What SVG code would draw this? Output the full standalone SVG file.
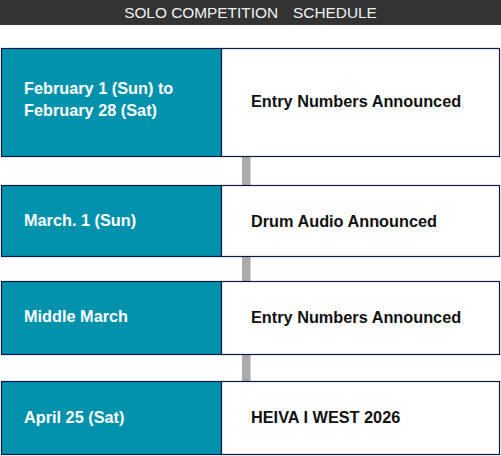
<svg xmlns="http://www.w3.org/2000/svg" width="501" height="456" viewBox="0 0 501 456">
<style>
.l{fill:#0091ad;stroke:#0b1a45;stroke-width:1.2}
.r{fill:#fff;stroke:#0b1a45;stroke-width:1.2}
.c{fill:#aaa}
.lt{font-family:"Liberation Sans",Arial,sans-serif;font-size:16.3px;font-weight:bold;fill:#fff}
.rt{font-family:"Liberation Sans",Arial,sans-serif;font-size:16.3px;font-weight:bold;fill:#111}
.h{font-family:"Liberation Sans",Arial,sans-serif;font-size:15.4px;fill:#f2f2f2}
</style>
<rect x="0" y="0" width="501" height="25" fill="#333"/>
<text class="h" x="250.5" y="18" text-anchor="middle">SOLO COMPETITION　SCHEDULE</text>
<g id="connectors">
<rect class="c" x="242" y="157" width="8.5" height="28"/>
<rect class="c" x="242" y="257" width="8.5" height="24"/>
<rect class="c" x="242" y="355" width="8.5" height="26"/>
</g>
<g id="row1">
<rect class="l" x="1.5" y="48.5" width="220" height="108"/>
<rect class="r" x="221.5" y="48.5" width="278" height="108"/>
<text class="lt" x="24" y="94">February 1 (Sun) to</text>
<text class="lt" x="24" y="116">February 28 (Sat)</text>
<text class="rt" x="251" y="107">Entry Numbers Announced</text>
</g>
<g id="row2">
<rect class="l" x="1.5" y="185.5" width="220" height="71"/>
<rect class="r" x="221.5" y="185.5" width="278" height="71"/>
<text class="lt" x="24" y="226">March. 1 (Sun)</text>
<text class="rt" x="251" y="227">Drum Audio Announced</text>
</g>
<g id="row3">
<rect class="l" x="1.5" y="281.5" width="220" height="73"/>
<rect class="r" x="221.5" y="281.5" width="278" height="73"/>
<text class="lt" x="24" y="322">Middle March</text>
<text class="rt" x="251" y="323">Entry Numbers Announced</text>
</g>
<g id="row4">
<rect class="l" x="1.5" y="381.5" width="220" height="73"/>
<rect class="r" x="221.5" y="381.5" width="278" height="73"/>
<text class="lt" x="24" y="423">April 25 (Sat)</text>
<text class="rt" x="251" y="423">HEIVA I WEST 2026</text>
</g>
</svg>
